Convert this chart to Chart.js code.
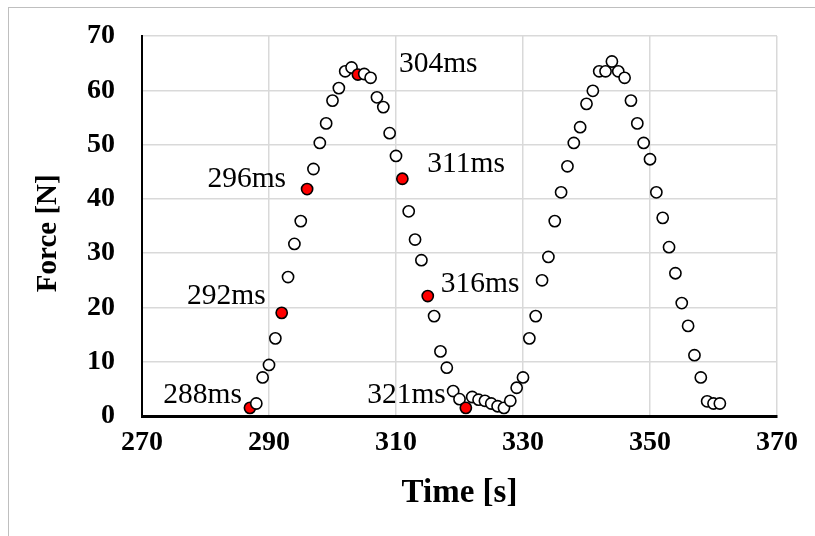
<!DOCTYPE html>
<html>
<head>
<meta charset="utf-8">
<script src="https://cdn.jsdelivr.net/npm/chart.js@4.4.1/dist/chart.umd.min.js"></script>
<style>
  html, body { margin: 0; padding: 0; background: #fff; overflow: hidden; }
  #frame { position: absolute; left: 8px; top: 7px; width: 1000px; height: 1000px;
           border-left: 1px solid #bfbfbf; border-top: 1px solid #bfbfbf; }
  canvas { position: absolute; left: 0; top: 0; }
</style>
</head>
<body>
<div id="frame"></div>
<canvas id="forceChart" width="815" height="536"></canvas>
<script>
// sample times and measured force
const timeValues = [
  287, 288, 289, 290, 291, 292, 293, 294, 295, 296,
  297, 298, 299, 300, 301, 302, 303, 304, 305, 306,
  307, 308, 309, 310, 311, 312, 313, 314, 315, 316,
  317, 318, 319, 320, 321, 322, 323, 324, 325, 326,
  327, 328, 329, 330, 331, 332, 333, 334, 335, 336,
  337, 338, 339, 340, 341, 342, 343, 344, 345, 346,
  347, 348, 349, 350, 351, 352, 353, 354, 355, 356,
  357, 358, 359, 360, 361
];
const forceValues = [
  1.5, 2.3, 7.1, 9.4, 14.3, 19.0, 25.6, 31.7, 35.9, 41.8,
  45.5, 50.3, 53.9, 58.1, 60.4, 63.5, 64.2, 62.9, 63.0, 62.3,
  58.7, 56.9, 52.1, 47.9, 43.7, 37.7, 32.5, 28.7, 22.1, 18.4,
  11.9, 8.9, 4.6, 3.1, 1.5, 3.5, 3.0, 2.8, 2.3, 1.8,
  1.5, 2.8, 5.2, 7.1, 14.3, 18.4, 25.0, 29.3, 35.9, 41.2,
  46.0, 50.3, 53.2, 57.5, 59.9, 63.5, 63.5, 65.3, 63.5, 62.3,
  58.1, 53.9, 50.3, 47.3, 41.2, 36.5, 31.1, 26.3, 20.8, 16.6,
  11.2, 7.1, 2.7, 2.3, 2.3
];
// highlighted samples and their captions
const markedTimes = [287, 292, 296, 304, 311, 315, 321];
const markLabels = ['288ms', '292ms', '296ms', '304ms', '311ms', '316ms', '321ms'];
const xRange = [270, 370];
const yRange = [0, 70];

// caption placement relative to its point: dx, dy, align
const labelOffsets = [
  [-8, -5, 'right'],
  [-16, -9, 'right'],
  [-21, -2, 'right'],
  [41, -3, 'left'],
  [25, -7, 'left'],
  [13, -4, 'left'],
  [-20, -5, 'right']
];

const serif = '"Liberation Serif", "Times New Roman", serif';

const markLabelPlugin = {
  id: 'markLabels',
  beforeDatasetsDraw(chart) {
    const { ctx, scales: { x, y } } = chart;
    ctx.save();
    ctx.font = '29.5px ' + serif;
    ctx.fillStyle = '#000';
    ctx.textBaseline = 'alphabetic';
    markedTimes.forEach((t, i) => {
      const idx = timeValues.indexOf(t);
      const px = x.getPixelForValue(t);
      const py = y.getPixelForValue(forceValues[idx]);
      const [dx, dy, align] = labelOffsets[i];
      ctx.textAlign = align;
      ctx.fillText(markLabels[i], px + dx, py + dy);
    });
    ctx.restore();
  }
};

const pointColors = timeValues.map(t => markedTimes.includes(t) ? '#ff0000' : '#ffffff');

const ctx = document.getElementById('forceChart').getContext('2d');
new Chart(ctx, {
  type: 'scatter',
  data: {
    datasets: [{
      data: timeValues.map((t, i) => ({ x: t, y: forceValues[i] })),
      backgroundColor: pointColors,
      borderColor: '#000',
      borderWidth: 1.6,
      pointRadius: 5.6,
      pointHoverRadius: 5.6,
      clip: false
    }]
  },
  options: {
    responsive: false,
    animation: false,
    events: [],
    layout: { padding: { top: 36, right: 38, left: 0, bottom: 0 } },
    plugins: { legend: { display: false }, tooltip: { enabled: false } },
    scales: {
      x: {
        type: 'linear',
        min: xRange[0],
        max: xRange[1],
        afterFit: s => { s.height = 120; },
        ticks: {
          stepSize: 20,
          color: '#000',
          padding: 10,
          maxRotation: 0,
          font: { family: serif, size: 28, weight: 'bold' }
        },
        grid: { color: '#d9d9d9', lineWidth: 1.5, drawTicks: false },
        border: { color: '#000', width: 3 },
        title: {
          display: true,
          text: 'Time [s]',
          color: '#000',
          padding: { top: 0, bottom: 23 },
          font: { family: serif, size: 33, weight: 'bold' }
        }
      },
      y: {
        min: yRange[0],
        max: yRange[1],
        afterFit: s => { s.width = 142; },
        ticks: {
          stepSize: 10,
          color: '#000',
          padding: 0,
          font: { family: serif, size: 28, weight: 'bold' }
        },
        grid: {
          color: '#d9d9d9',
          lineWidth: 1.5,
          drawTicks: true,
          tickLength: 27,
          tickColor: 'rgba(0,0,0,0)'
        },
        border: { color: '#000', width: 2 },
        title: {
          display: true,
          text: 'Force [N]  ',
          color: '#000',
          padding: { top: 31, bottom: 0 },
          font: { family: serif, size: 29, weight: 'bold' }
        }
      }
    }
  },
  plugins: [markLabelPlugin]
});
</script>
</body>
</html>
